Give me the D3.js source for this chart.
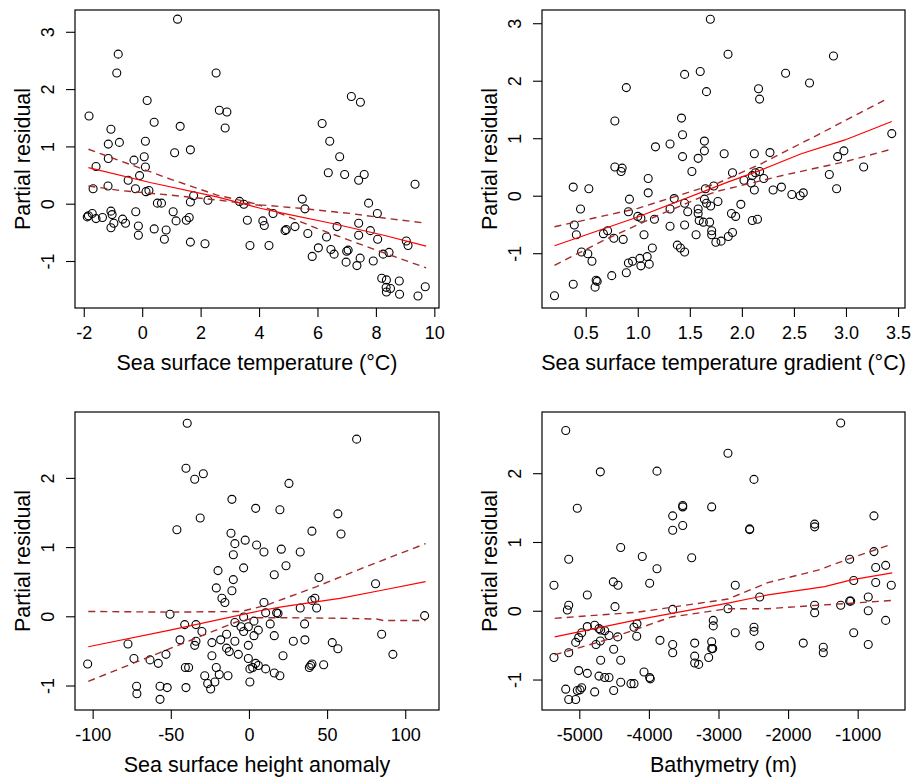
<!DOCTYPE html>
<html>
<head>
<meta charset="utf-8">
<script src="https://cdn.jsdelivr.net/npm/d3@7"></script>
<style>
body { margin: 0; background: #fff; }
svg { display: block; }
text { font-family: "Liberation Sans", Arial, sans-serif; fill: #000; }
</style>
</head>
<body>
<script>
// ---- panel 1: sea surface temperature ----
var sstPts = [
[1.21,3.22],[-0.82,2.61],[-0.87,2.28],[2.53,2.28],[0.17,1.80],[2.64,1.63],[2.90,1.60],[-1.82,1.53],[0.41,1.42],[1.30,1.35],
[2.84,1.32],[-1.07,1.30],[-1.16,1.04],[-0.78,1.07],[0.11,1.09],[1.65,0.94],[1.11,0.89],[-1.16,0.79],[0.07,0.82],[-0.28,0.76],
[-1.58,0.65],[0.11,0.64],[-0.09,0.49],[-0.48,0.41],[-1.17,0.31],[-1.68,0.26],[-0.23,0.26],[0.13,0.21],[0.23,0.23],[1.76,0.14],
[1.65,0.03],[2.25,0.06],[0.52,0.01],[0.66,0.01],[3.33,0.04],[3.48,-0.01],[-1.88,-0.23],[-1.84,-0.21],[-1.71,-0.17],[-1.58,-0.26],
[-1.36,-0.24],[-1.07,-0.13],[-1.03,-0.19],[-0.97,-0.34],[-1.07,-0.42],[-0.67,-0.27],[-0.57,-0.34],[-0.22,-0.14],[-0.13,-0.39],[-0.13,-0.55],
[0.41,-0.44],[0.82,-0.46],[0.76,-0.62],[1.06,-0.14],[1.16,-0.30],[1.51,-0.29],[1.61,-0.24],[1.65,-0.67],[2.15,-0.70],[3.60,-0.29],
[3.69,-0.73],[4.13,-0.30],[4.18,-0.38],[4.48,-0.17],[4.34,-0.73],[4.89,-0.47],[4.93,-0.45],[5.23,-0.40],[5.48,0.08],[5.57,-0.09],
[5.67,-0.52],[5.82,-0.92],[6.03,-0.77],[6.16,1.40],[6.42,1.09],[6.76,0.82],[6.37,0.54],[6.93,0.51],[6.31,-0.58],[6.46,-0.80],
[6.57,-0.88],[6.67,-0.40],[7.00,-0.83],[7.05,-0.81],[6.98,-1.02],[7.16,1.87],[7.47,1.77],[7.41,0.41],[7.60,0.51],[7.41,-0.34],
[7.41,-0.55],[7.46,-0.95],[7.35,-1.08],[7.75,0.01],[7.81,-0.47],[7.91,-1.00],[8.05,-0.17],[8.06,-0.62],[8.25,-0.88],[8.45,-0.85],
[8.20,-1.30],[8.36,-1.33],[8.35,-1.46],[8.36,-1.54],[8.50,-1.48],[8.80,-1.35],[8.81,-1.58],[9.04,-0.65],[9.10,-0.73],[9.34,0.34],
[9.44,-1.61],[9.69,-1.45]
];
var sstFit = [[-1.84,0.63],[0.27,0.37],[2.56,0.12],[4.04,-0.08],[4.84,-0.17],[6.55,-0.35],[8.27,-0.55],[9.72,-0.74]];
var sstUpper = [[-1.84,0.95],[0.96,0.43],[2.56,0.15],[4.04,-0.02],[5.41,-0.08],[7.12,-0.17],[8.27,-0.25],[9.72,-0.34]];
var sstLower = [[-1.84,0.31],[-0.75,0.23],[0.96,0.15],[2.67,0.06],[4.04,-0.03],[5.98,-0.43],[7.69,-0.75],[9.72,-1.12]];
var sstTicks = [-2, 0, 2, 4, 6, 8, 10];

// ---- panel 2: sea surface temperature gradient ----
var gradPts = [
[1.697,3.07],[1.60,2.16],[1.45,2.11],[1.66,1.81],[0.89,1.88],[0.78,1.30],[1.42,1.35],[1.43,1.06],[1.64,0.95],[1.64,0.78],
[1.31,0.90],[1.17,0.85],[1.43,0.68],[1.58,0.65],[1.83,0.73],[1.52,0.42],[0.78,0.50],[0.85,0.48],[0.84,0.42],[1.10,0.30],
[1.10,0.05],[0.38,0.15],[0.53,0.12],[1.65,0.12],[1.73,0.17],[0.92,-0.06],[1.35,-0.05],[1.45,-0.13],[1.64,-0.06],[1.66,-0.13],
[1.70,-0.18],[1.77,-0.10],[0.45,-0.23],[1.31,-0.23],[1.58,-0.23],[1.58,-0.31],[1.48,-0.28],[0.91,-0.28],[1.00,-0.36],[1.03,-0.39],
[1.16,-0.41],[1.59,-0.43],[1.63,-0.46],[1.69,-0.46],[0.39,-0.51],[1.31,-0.53],[1.45,-0.51],[1.71,-0.61],[1.71,-0.68],[0.41,-0.68],
[0.67,-0.66],[0.71,-0.61],[0.77,-0.74],[0.86,-0.76],[1.06,-0.68],[1.56,-0.68],[1.75,-0.81],[1.80,-0.79],[0.46,-0.98],[0.52,-1.01],
[0.56,-1.14],[1.14,-0.91],[1.38,-0.86],[1.41,-0.91],[1.45,-0.98],[0.91,-1.17],[0.95,-1.14],[1.02,-1.09],[1.03,-1.22],[1.09,-1.06],
[1.11,-1.19],[0.75,-1.39],[0.89,-1.34],[0.60,-1.47],[0.61,-1.49],[0.59,-1.59],[0.38,-1.54],[0.20,-1.74],
[1.867,2.46],[2.88,2.43],[2.42,2.13],[2.65,1.96],[2.16,1.86],[2.17,1.68],[3.44,1.08],[2.12,0.73],[2.27,0.75],[2.98,0.78],
[2.92,0.68],[3.17,0.50],[2.84,0.37],[2.91,0.12],[1.91,0.40],[2.02,0.27],[2.09,0.22],[2.10,0.35],[2.13,0.40],[2.17,0.42],
[2.21,0.30],[2.12,0.10],[2.30,0.10],[2.38,0.15],[2.48,0.02],[2.56,0.00],[2.59,0.05],[1.99,-0.15],[1.90,-0.31],[1.94,-0.36],
[2.10,-0.43],[2.15,-0.41],[1.87,-0.71],[1.91,-0.64]
];
var gradFit = [[0.20,-0.87],[1.00,-0.37],[1.87,0.24],[2.19,0.45],[2.57,0.73],[2.99,0.97],[3.44,1.29]];
var gradUpper = [[0.20,-0.54],[1.00,-0.22],[1.77,0.22],[2.19,0.56],[2.73,1.06],[3.40,1.69]];
var gradLower = [[0.20,-1.21],[0.68,-0.77],[1.16,-0.37],[1.64,0.00],[1.77,0.08],[2.41,0.36],[2.99,0.59],[3.44,0.81]];
var gradTicks = [0.5, 1.0, 1.5, 2.0, 2.5, 3.0, 3.5];

// ---- panel 3: sea surface height anomaly ----
var sshPts = [
[-39.5,2.79],[-40.3,2.14],[-34.7,1.98],[-29.2,2.06],[-10.9,1.69],[4.3,1.56],[-31.2,1.42],[-46.1,1.25],[-11.5,1.20],[-9.0,1.05],
[-2.4,1.10],[4.9,1.03],[-10.0,0.89],[-3.4,0.70],[-19.8,0.66],[-10.0,0.53],[-20.9,0.41],[-10.9,0.37],[-17.3,0.26],[-15.4,0.20],
[-50.5,0.03],[-3.4,-0.01],[-41.1,-0.12],[-33.9,-0.12],[-30.1,-0.22],[-9.0,-0.09],[-5.1,-0.15],[-3.4,-0.22],[-0.4,-0.15],[3.2,-0.07],
[6.0,-0.20],[3.2,-0.28],[-44.1,-0.34],[-33.9,-0.36],[-34.7,-0.42],[-23.7,-0.38],[-18.1,-0.34],[-14.3,-0.26],[-9.0,-0.36],[-0.4,-0.42],
[-14.3,-0.46],[-12.6,-0.51],[-6.8,-0.55],[-23.7,-0.57],[-77.4,-0.40],[-73.6,-0.61],[-63.3,-0.63],[-58.0,-0.68],[-53.1,-0.55],[-103.2,-0.69],
[-40.7,-0.74],[-38.6,-0.74],[-20.9,-0.74],[-0.4,-0.61],[0.6,-0.76],[2.4,-0.74],[4.3,-0.68],[6.0,-0.71],[-28.3,-0.86],[-19.0,-0.84],
[-13.4,-0.86],[-26.4,-0.97],[-21.8,-0.95],[-24.5,-1.05],[0.6,-0.95],[-71.9,-1.01],[-71.7,-1.12],[-56.9,-1.01],[-52.3,-1.03],[-56.9,-1.20],
[-40.3,-1.03],
[68.9,2.56],[25.6,1.92],[19.8,1.54],[56.9,1.48],[40.3,1.23],[58.9,1.19],[9.6,0.93],[20.7,0.97],[32.8,0.93],[23.7,0.73],
[16.2,0.60],[44.8,0.56],[81.0,0.47],[9.6,0.20],[40.3,0.23],[42.2,0.26],[43.3,0.12],[32.8,0.12],[10.7,0.05],[17.7,0.05],
[18.6,0.04],[112.4,0.01],[13.6,-0.11],[35.6,-0.11],[16.2,-0.28],[84.9,-0.26],[28.4,-0.36],[35.8,-0.34],[53.3,-0.38],[56.9,-0.47],
[21.8,-0.57],[92.1,-0.55],[38.6,-0.74],[39.5,-0.71],[40.3,-0.69],[47.8,-0.70],[10.7,-0.76],[16.2,-0.82],[19.8,-0.86]
];
var sshFit = [[-102.8,-0.44],[-50.5,-0.20],[7.0,0.08],[21.9,0.14],[58.2,0.26],[85.9,0.38],[113,0.50]];
var sshUpper = [[-102.8,0.07],[-50.5,0.06],[-5,0.07],[11.3,0.16],[43.3,0.43],[75.3,0.72],[113,1.05]];
var sshLower = [[-102.8,-0.94],[-71.9,-0.66],[-39.9,-0.37],[-7.9,-0.08],[5,-0.02],[21.9,-0.02],[64.6,-0.03],[81.7,-0.04],[85.9,-0.06],[113,-0.06]];
var sshTicks = [-100, -50, 0, 50, 100];

// ---- panel 4: bathymetry ----
var bathyPts = [
[-5195,2.62],[-4698,2.02],[-3884,2.03],[-2864,2.29],[-5029,1.49],[-3514,1.53],[-3514,1.51],[-3098,1.51],[-3658,1.38],[-3514,1.24],
[-3658,1.17],[-4405,0.92],[-5152,0.75],[-4095,0.79],[-3385,0.77],[-3884,0.61],[-5364,0.37],[-4511,0.42],[-4444,0.37],[-3989,0.40],
[-4885,0.23],[-5152,0.08],[-5172,0.01],[-4487,0.06],[-3658,0.02],[-2864,0.03],[-4885,-0.23],[-4779,-0.21],[-4717,-0.26],[-4693,-0.28],
[-4635,-0.29],[-4573,-0.36],[-4448,-0.38],[-4966,-0.32],[-5009,-0.39],[-5052,-0.46],[-4698,-0.44],[-4760,-0.49],[-4214,-0.24],[-4171,-0.19],
[-4175,-0.37],[-3841,-0.43],[-3658,-0.49],[-3658,-0.61],[-3342,-0.47],[-3342,-0.66],[-3342,-0.76],[-3285,-0.78],[-3141,-0.68],[-3098,-0.55],
[-3083,-0.55],[-3098,-0.45],[-3075,-0.14],[-3075,-0.22],[-5364,-0.68],[-5152,-0.61],[-4506,-0.56],[-4405,-0.72],[-4693,-0.72],[-5009,-0.87],
[-4885,-0.91],[-4717,-0.95],[-4635,-0.97],[-4573,-0.97],[-4070,-0.89],[-3989,-0.97],[-3980,-0.99],[-4405,-1.04],[-4257,-1.06],[-4214,-1.06],
[-4506,-1.16],[-5195,-1.14],[-5029,-1.16],[-4966,-1.12],[-4990,-1.15],[-4779,-1.18],[-5152,-1.29],[-5052,-1.29],
[-1244,2.73],[-2490,1.91],[-766,1.38],[-2552,1.19],[-2552,1.18],[-1618,1.26],[-1618,1.22],[-1115,0.75],[-766,0.86],[-741,0.63],
[-598,0.66],[-2759,0.37],[-1057,0.44],[-741,0.41],[-517,0.37],[-2408,0.20],[-848,0.20],[-1618,0.08],[-1115,0.14],[-1100,0.14],
[-1244,0.08],[-1618,-0.03],[-848,0.00],[-598,-0.14],[-2759,-0.32],[-2490,-0.24],[-2490,-0.30],[-2408,-0.51],[-1782,-0.47],[-1494,-0.53],
[-1494,-0.61],[-1057,-0.32],[-848,-0.49]
];
var bathyFit = [[-5353,-0.38],[-4157,-0.13],[-2864,0.11],[-2289,0.23],[-1474,0.35],[-1092,0.45],[-503,0.55]];
var bathyUpper = [[-5353,-0.11],[-4157,-0.02],[-2864,0.17],[-2289,0.41],[-1570,0.59],[-1139,0.75],[-503,0.97]];
var bathyLower = [[-5353,-0.64],[-4635,-0.43],[-3678,-0.09],[-2864,0.03],[-2289,0.03],[-1570,0.08],[-1092,0.11],[-503,0.15]];
var bathyTicks = [-5000, -4000, -3000, -2000, -1000];

var panels = [
  { pts: sstPts, fit: sstFit, hi: sstUpper, lo: sstLower, xTicks: sstTicks, yTicks: [-1, 0, 1, 2, 3],
    xLabel: "Sea surface temperature (°C)", box: [75, 10, 364, 298], xDom: [-2.30, 10.16], yDom: [-1.82, 3.38], fmt: String },
  { pts: gradPts, fit: gradFit, hi: gradUpper, lo: gradLower, xTicks: gradTicks, yTicks: [-1, 0, 1, 2, 3],
    xLabel: "Sea surface temperature gradient (°C)", box: [542, 10, 363, 298], xDom: [0.080, 3.567], yDom: [-1.953, 3.230],
    fmt: function(d) { return d.toFixed(1); } },
  { pts: sshPts, fit: sshFit, hi: sshUpper, lo: sshLower, xTicks: sshTicks, yTicks: [-1, 0, 1, 2],
    xLabel: "Sea surface height anomaly", box: [75, 412, 364, 298], xDom: [-111.3, 121.6], yDom: [-1.354, 2.952], fmt: String },
  { pts: bathyPts, fit: bathyFit, hi: bathyUpper, lo: bathyLower, xTicks: bathyTicks, yTicks: [-1, 0, 1, 2],
    xLabel: "Bathymetry (m)", box: [542, 412, 363, 298], xDom: [-5536, -320], yDom: [-1.443, 2.890], fmt: String }
];

var svg = d3.select("body").append("svg")
  .attr("width", 912)
  .attr("height", 777);

panels.forEach(function(p) {
  var w = p.box[2], h = p.box[3];
  var g = svg.append("g")
    .attr("transform", "translate(" + p.box[0] + "," + p.box[1] + ")");

  var x = d3.scaleLinear().domain(p.xDom).range([0, w]);
  var y = d3.scaleLinear().domain(p.yDom).range([h, 0]);

  // x axis
  var gx = g.append("g")
    .attr("transform", "translate(0," + h + ")")
    .call(d3.axisBottom(x).tickValues(p.xTicks).tickSize(9).tickFormat(p.fmt));
  gx.select(".domain").remove();
  gx.selectAll("line").attr("stroke", "#000").attr("stroke-width", 1.1);
  gx.selectAll("text")
    .attr("y", 31).attr("dy", 0)
    .style("font-size", "18px");

  // y axis (labels parallel to the axis, like base R)
  var gy = g.append("g")
    .call(d3.axisLeft(y).tickValues(p.yTicks).tickSize(9).tickFormat(String));
  gy.select(".domain").remove();
  gy.selectAll("line").attr("stroke", "#000").attr("stroke-width", 1.1);
  gy.selectAll("text")
    .attr("x", 0).attr("y", 0).attr("dy", "0.35em")
    .attr("text-anchor", "middle")
    .attr("transform", "translate(-27,0) rotate(-90)")
    .style("font-size", "18px");

  g.selectAll("text").attr("fill", "#000");

  // axis titles
  g.append("text")
    .attr("x", w / 2).attr("y", h + 62)
    .attr("text-anchor", "middle")
    .style("font-size", "21.5px")
    .text(p.xLabel);

  g.append("text")
    .attr("transform", "translate(-53," + (h / 2) + ") rotate(-90)")
    .attr("dy", "0.35em")
    .attr("text-anchor", "middle")
    .style("font-size", "21.5px")
    .text("Partial residual");

  var line = d3.line()
    .x(function(d) { return x(d[0]); })
    .y(function(d) { return y(d[1]); });

  // points
  g.append("g").selectAll("circle")
    .data(p.pts)
    .enter().append("circle")
    .attr("cx", function(d) { return x(d[0]); })
    .attr("cy", function(d) { return y(d[1]); })
    .attr("r", 4)
    .attr("fill", "none")
    .attr("stroke", "#000")
    .attr("stroke-width", 1.1);

  // confidence bands
  [p.hi, p.lo].forEach(function(band) {
    g.append("path")
      .datum(band)
      .attr("d", line)
      .attr("fill", "none")
      .attr("stroke", "#a52a2a")
      .attr("stroke-width", 1.4)
      .attr("stroke-dasharray", "7,5");
  });

  // fitted smooth
  g.append("path")
    .datum(p.fit)
    .attr("d", line)
    .attr("fill", "none")
    .attr("stroke", "#ff0000")
    .attr("stroke-width", 1.2);

  // plot box
  g.append("rect")
    .attr("width", w).attr("height", h)
    .attr("fill", "none")
    .attr("stroke", "#000")
    .attr("stroke-width", 1.2);
});
</script>
</body>
</html>
